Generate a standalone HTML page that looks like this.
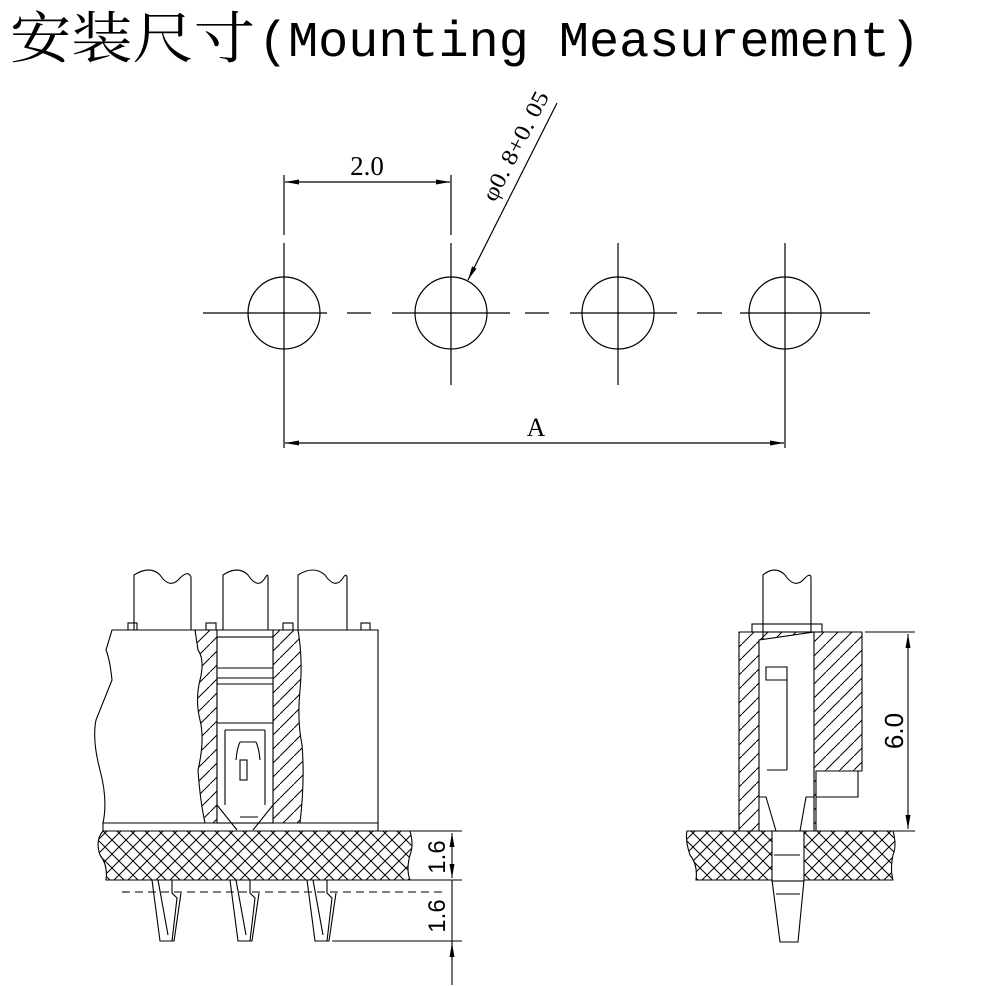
<!DOCTYPE html>
<html><head><meta charset="utf-8"><style>
html,body{margin:0;padding:0;background:#fff;width:982px;height:987px;overflow:hidden}
svg{display:block}
</style></head><body>
<svg width="982" height="987" viewBox="0 0 982 987" xmlns="http://www.w3.org/2000/svg" font-family="Liberation Serif, serif">
<defs>
<pattern id="h" width="14" height="14" patternUnits="userSpaceOnUse">
<path d="M0 14 L14 0" stroke="#000" stroke-width="1"/>
</pattern>
<pattern id="x" width="14" height="14" patternUnits="userSpaceOnUse">
<path d="M0 0 L14 14 M14 0 L0 14" stroke="#000" stroke-width="1"/>
</pattern>
<marker id="a" markerWidth="14" markerHeight="6" refX="14" refY="3" orient="auto-start-reverse" markerUnits="userSpaceOnUse"><path d="M0 0.5 L14 3 L0 5.5Z" fill="#000"/></marker>
</defs>
<text x="10" y="58" font-family="Liberation Serif, 'Noto Serif CJK SC', serif" font-size="56" textLength="245" lengthAdjust="spacingAndGlyphs">安装尺寸</text>
<text x="258" y="56" font-family="Liberation Mono, monospace" font-size="50" textLength="662" lengthAdjust="spacingAndGlyphs">(Mounting Measurement)</text>

<g stroke="#000" stroke-width="1.2" fill="none">
<circle cx="284" cy="313" r="36"/><circle cx="451" cy="313" r="36"/><circle cx="618" cy="313" r="36"/><circle cx="785" cy="313" r="36"/>
<path d="M284 175V235M284 243V448M451 175V235M451 243V385M618 243V385M785 243V448"/>
<path d="M203 313H327M347 313H371M392 313H510M525 313H549M570 313H677M697 313H722M740 313H870"/>
<path d="M285 182H450" marker-start="url(#a)" marker-end="url(#a)"/>
<path d="M285 443H784" marker-start="url(#a)" marker-end="url(#a)"/>
<path d="M557 103L468 280" marker-end="url(#a)"/>
</g>
<text x="367" y="175" font-size="27" text-anchor="middle">2.0</text>
<text x="536" y="436" font-size="26" text-anchor="middle">A</text>
<text transform="translate(495 203) rotate(-63)" font-size="23" textLength="120" lengthAdjust="spacingAndGlyphs">φ0. 8+0. 05</text>

<!-- left view -->
<g stroke="#000" stroke-width="1.1" fill="none">
<path d="M134 630V575Q150 565 160 575Q170 590 180 578Q188 570 191 577V630"/>
<path d="M223 637V575Q238 565 248 575Q258 590 265 578Q268 573 268 577V637"/>
<path d="M298 630V575Q314 565 325 575Q335 590 343 578Q346 573 347 577V630"/>
<rect x="128" y="623" width="9" height="7"/><rect x="206" y="623" width="10" height="7"/><rect x="283" y="623" width="10" height="7"/><rect x="361" y="623" width="9" height="7"/>
<path d="M112 630H378V823H103Q108 800 100 770Q92 740 96 720Q104 700 112 680Q110 660 106 650Z" fill="#fff"/>
<path d="M195 630H217V823H205Q200 800 198 770Q205 740 200 720Q195 700 200 680Q205 660 198 650Z" fill="url(#h)"/>
<path d="M273 630H298Q303 660 300 690Q297 720 302 745Q305 780 300 823H273Z" fill="url(#h)"/>
<rect x="217" y="637" width="56" height="186" fill="#fff"/>
<path d="M217 668H273M217 678H273M217 684H273M217 723H273M225 730H265M225 730V805M265 730V805"/>
<path d="M217 805L237 830M273 805L253 830M240 817H258"/>
<rect x="240" y="760" width="7" height="20"/>
<path d="M240 742H256M236 760Q237 748 240 742M260 760Q259 748 256 742"/>
<path d="M103 823H378V831H103Z"/>
<path d="M103 831H410Q414 845 410 855Q406 870 410 880H106Q108 865 100 855Q95 840 103 831Z" fill="url(#x)"/>
<path d="M152 880L160 941H174L181 893M158 880L168 935M172 880V893L177 898L172 941M230 880L238 941H252L259 893M236 880L246 935M250 880V893L255 898L250 941M307 880L315 941H329L336 893M313 880L323 935M327 880V893L332 898L327 941"/>
<path d="M122 892H447" stroke-dasharray="8 5"/>
<path d="M410 831H462M410 880H462M332 941H462"/>
<path d="M452 833V878" marker-start="url(#a)" marker-end="url(#a)"/>
<path d="M452 880V985"/>
<path d="M452 960V943" marker-end="url(#a)"/>
</g>
<text transform="translate(445 857) rotate(-90)" font-family="Liberation Sans, sans-serif" font-size="24" text-anchor="middle">1.6</text>
<text transform="translate(445 916) rotate(-90)" font-family="Liberation Sans, sans-serif" font-size="24" text-anchor="middle">1.6</text>

<!-- right view -->
<g stroke="#000" stroke-width="1.1" fill="none">
<path d="M763 640V575Q775 565 785 575Q795 590 805 578Q810 573 811 577V635"/>
<rect x="752" y="624" width="70" height="8"/>
<path d="M739 632H862V771H816V831H739Z" fill="url(#h)"/>
<path d="M759 640L814 632V831H759Z" fill="#fff"/>
<path d="M766 667H787V680H766ZM787 680V770M767 770H787M759 770V797H766L776 831M814 797H806L800 831"/>
<path d="M816 797H858V771"/>
<path d="M687 831H893Q897 845 893 855Q890 870 893 880H696Q698 865 690 855Q685 840 687 831Z" fill="url(#x)"/>
<rect x="772" y="831" width="32" height="50" fill="#fff"/>
<path d="M774 855H800M772 880L780 942H798L804 880M776 894H800"/>
<path d="M865 632H915M862 831H915"/>
<path d="M908 634V829" marker-start="url(#a)" marker-end="url(#a)"/>
</g>
<text transform="translate(903 731) rotate(-90)" font-family="Liberation Sans, sans-serif" font-size="26" text-anchor="middle">6.0</text>
</svg>
</body></html>
